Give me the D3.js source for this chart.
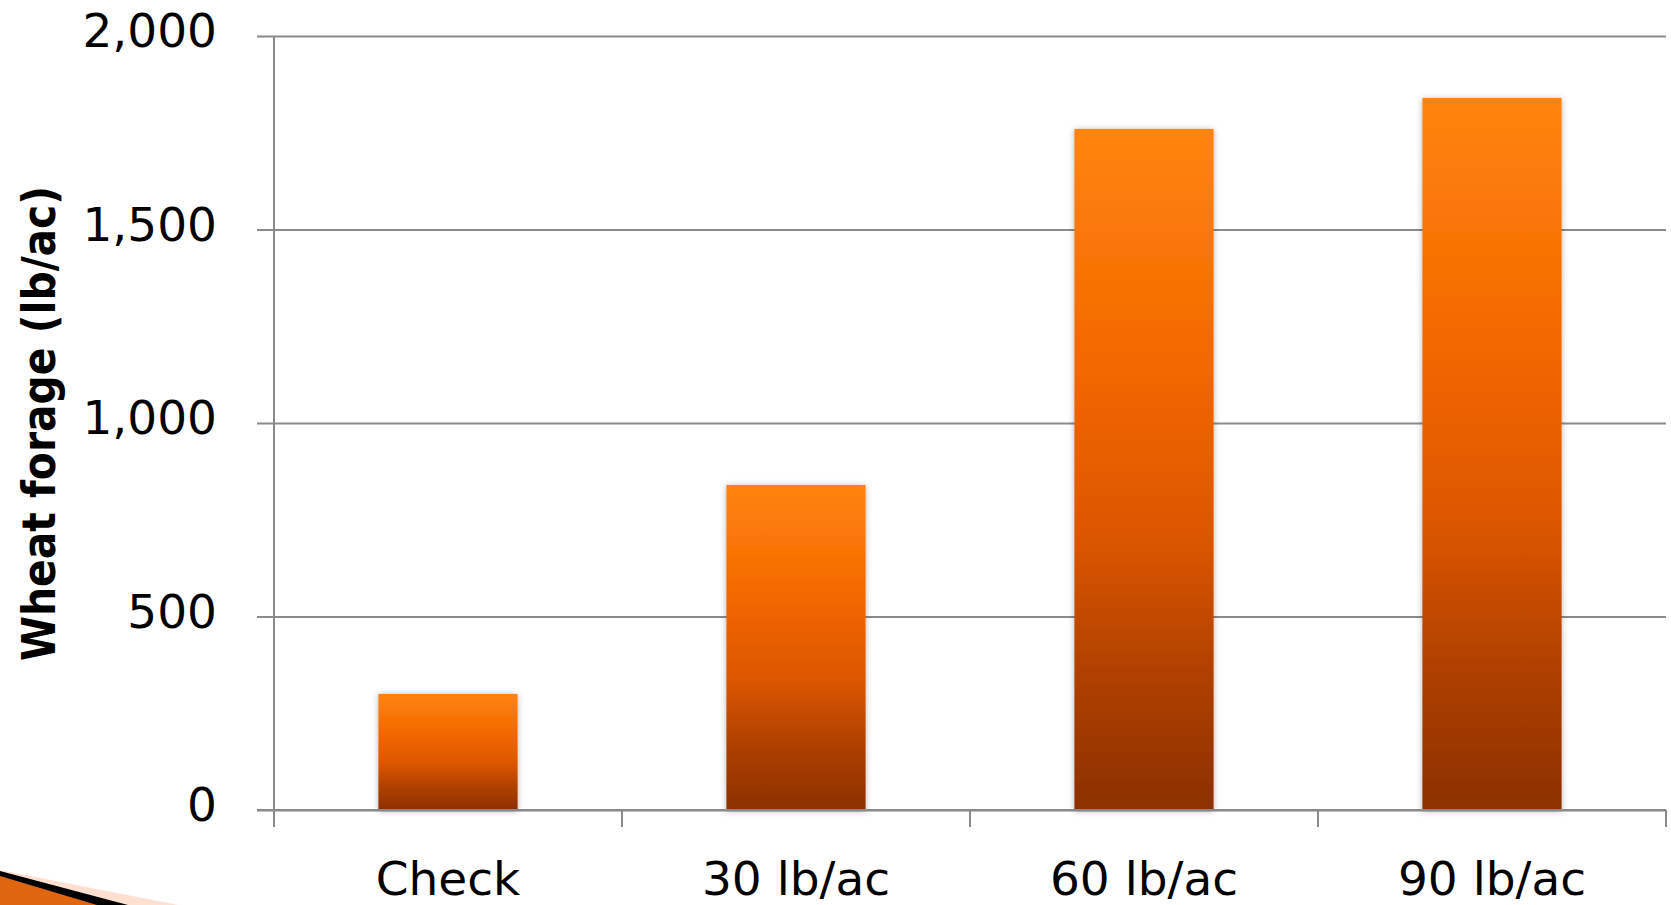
<!DOCTYPE html>
<html>
<head>
<meta charset="utf-8">
<script src="https://cdn.jsdelivr.net/npm/d3@7"></script>
<style>
  html, body { margin: 0; padding: 0; background: #fff; }
  svg { display: block; }
</style>
</head>
<body>
<svg id="chart" width="1671" height="905"></svg>
<script>
const categories = ["Check", "30 lb/ac", "60 lb/ac", "90 lb/ac"];
const forageValues = [300, 840, 1760, 1840];
const yTickValues = [0, 500, 1000, 1500, 2000];
const yTitle = "Wheat forage (lb/ac)";

const svg = d3.select("#chart");
const W = 1671, H = 905;
const margin = { left: 274, right: 5, top: 36, bottom: 95 };
const plotR = W - margin.right, plotB = H - margin.bottom;

const x = d3.scaleBand().domain(categories).range([margin.left, plotR])
  .paddingInner(0.6).paddingOuter(0.3);
const y = d3.scaleLinear().domain([0, 2000]).range([plotB, margin.top]);

const defs = svg.append("defs");
const grad = defs.append("linearGradient").attr("id", "barGrad")
  .attr("x1", 0).attr("y1", 0).attr("x2", 0).attr("y2", 1);
[[0, "#ff840e"], [0.35, "#f46700"], [0.6, "#dc5600"], [0.8, "#b04000"], [1, "#8c3000"]]
  .forEach(([o, c]) => grad.append("stop").attr("offset", o).attr("stop-color", c));
const f = defs.append("filter").attr("id", "shadow")
  .attr("x", "-10%").attr("y", "-5%").attr("width", "120%").attr("height", "110%");
f.append("feDropShadow").attr("dx", 0).attr("dy", 1).attr("stdDeviation", 3)
  .attr("flood-color", "#000").attr("flood-opacity", 0.3);

// corner decoration
const deco = svg.append("g");
deco.append("polygon").attr("points", "0,870 178,905 0,905").attr("fill", "#fde0d0");
deco.append("polygon").attr("points", "0,871 128,905 0,905").attr("fill", "#000");
deco.append("polygon").attr("points", "0,876 97,905 0,905").attr("fill", "#e0650f");

const gridColor = "#8a8a8a";

// y axis with gridlines
const yAxis = d3.axisLeft(y).tickValues(yTickValues)
  .tickSize(-(plotR - margin.left)).tickPadding(0)
  .tickFormat(d3.format(","));
const gy = svg.append("g").attr("transform", `translate(${margin.left},0)`).call(yAxis);
gy.select(".domain").remove();
gy.selectAll(".tick line").attr("stroke", gridColor).attr("stroke-width", 2)
  .attr("x1", -17);
gy.selectAll(".tick text")
  .attr("x", -57).attr("dy", "0.23em")
  .attr("font-family", "DejaVu Sans").attr("font-size", 47).attr("fill", "#000");

// bars
svg.append("g").selectAll("rect").data(categories).join("rect")
  .attr("x", d => x(d))
  .attr("width", x.bandwidth())
  .attr("y", (d, i) => y(forageValues[i]))
  .attr("height", (d, i) => y(0) - y(forageValues[i]))
  .attr("fill", "url(#barGrad)")
  .attr("filter", "url(#shadow)");

// y axis vertical line
svg.append("line").attr("x1", margin.left).attr("x2", margin.left)
  .attr("y1", margin.top).attr("y2", plotB + 17)
  .attr("stroke", gridColor).attr("stroke-width", 2);

// x axis
const xb = d3.scalePoint().domain(d3.range(categories.length + 1)).range([margin.left, plotR]);
const gx = svg.append("g").attr("transform", `translate(0,${plotB})`);
gx.append("line").attr("x1", margin.left - 17).attr("x2", plotR)
  .attr("stroke", gridColor).attr("stroke-width", 2);
gx.selectAll("line.tk").data(xb.domain()).join("line").attr("class", "tk")
  .attr("x1", d => xb(d)).attr("x2", d => xb(d)).attr("y1", 0).attr("y2", 17)
  .attr("stroke", gridColor).attr("stroke-width", 2);
const xAxis = d3.axisBottom(x).tickSize(0).tickPadding(0);
const gxl = svg.append("g").attr("transform", `translate(0,${plotB})`).call(xAxis);
gxl.select(".domain").remove();
gxl.selectAll(".tick text").attr("y", 85).attr("dy", 0)
  .attr("font-family", "DejaVu Sans").attr("font-size", 47).attr("fill", "#000");

// y title
svg.append("text")
  .attr("transform", `translate(55,${(186 + 661) / 2}) rotate(-90)`)
  .attr("text-anchor", "middle")
  .attr("font-family", "DejaVu Sans").attr("font-weight", "bold")
  .attr("font-size", 46)
  .attr("textLength", 475).attr("lengthAdjust", "spacingAndGlyphs")
  .text(yTitle);
</script>
</body>
</html>
